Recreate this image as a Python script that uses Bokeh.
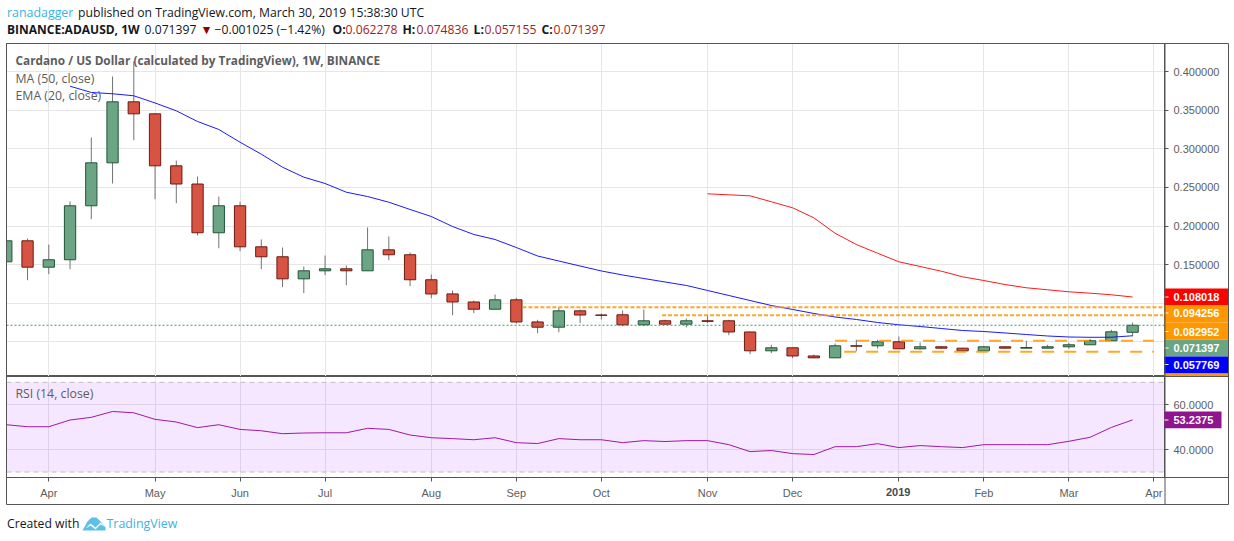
import pandas as pd
from bokeh.embed import file_html
from bokeh.resources import INLINE
from bokeh.layouts import column
from bokeh.plotting import figure
from bokeh.models import (Range1d, FixedTicker, NumeralTickFormatter, Label, BoxAnnotation,
                          Span, PolyAnnotation)

dates = ["2018-03-19","2018-03-26","2018-04-02","2018-04-09","2018-04-16","2018-04-23","2018-04-30","2018-05-07",
         "2018-05-14","2018-05-21","2018-05-28","2018-06-04","2018-06-11","2018-06-18","2018-06-25","2018-07-02",
         "2018-07-09","2018-07-16","2018-07-23","2018-07-30","2018-08-06","2018-08-13","2018-08-20","2018-08-27",
         "2018-09-03","2018-09-10","2018-09-17","2018-09-24","2018-10-01","2018-10-08","2018-10-15","2018-10-22",
         "2018-10-29","2018-11-05","2018-11-12","2018-11-19","2018-11-26","2018-12-03","2018-12-10","2018-12-17",
         "2018-12-24","2018-12-31","2019-01-07","2019-01-14","2019-01-21","2019-01-28","2019-02-04","2019-02-11",
         "2019-02-18","2019-02-25","2019-03-04","2019-03-11","2019-03-18","2019-03-25"]
opens = [.1537,.1809,.1467,.1563,.2263,.2820,.3611,.3455,.2781,.2545,.1913,.2263,.1731,.1602,.1316,.1420,.1446,.1420,
         .1692,.1628,.1304,.1120,.1016,.0922,.1044,.0757,.0689,.0901,.0847,.0850,.0720,.0772,.0728,.0772,.0772,.0627,
         .0383,.0422,.0316,.0292,.0448,.0448,.0500,.0409,.0435,.0417,.0383,.0435,.0417,.0417,.0435,.0461,.0513,.062278]
highs = [.1870,.1839,.1761,.2319,.3148,.3939,.4134,.3463,.2850,.2643,.2383,.2315,.1826,.1722,.1476,.1618,.1489,.1982,
         .1865,.1657,.1372,.1165,.1035,.1113,.1070,.0785,.0944,.0918,.0867,.0905,.0918,.0785,.0802,.0837,.0785,.0630,
         .0461,.0424,.0335,.0478,.0526,.0526,.0569,.0491,.0445,.0422,.0448,.0439,.0513,.0461,.0487,.0537,.0655,.074836]
lows = [.1500,.1298,.1376,.1441,.2089,.2552,.3113,.2348,.2296,.1878,.1713,.1674,.1441,.1208,.1130,.1363,.1233,.1420,
        .1558,.1221,.1065,.0844,.0871,.0922,.0737,.0611,.0624,.0741,.0789,.0702,.0702,.0724,.0685,.0741,.0585,.0339,
        .0352,.0287,.0287,.0292,.0378,.0413,.0409,.0400,.0406,.0374,.0374,.0413,.0413,.0413,.0409,.0461,.0513,.057155]
closes = [.1809,.1467,.1563,.2263,.2820,.3611,.3455,.2781,.2545,.1913,.2263,.1731,.1602,.1316,.1420,.1446,.1420,.1692,
          .1628,.1304,.1120,.1016,.0922,.1044,.0757,.0689,.0901,.0847,.0843,.0720,.0772,.0728,.0772,.0765,.0627,.0383,
          .0422,.0316,.0292,.0448,.0443,.0500,.0409,.0435,.0417,.0383,.0435,.0417,.0426,.0435,.0461,.0513,.0629,.071397]
blue_dates = dates[3:]
blue_line = [.3813,.3732,.3715,.3689,.3596,.3494,.3356,.3252,.3087,.2932,.2763,.2634,.2552,.2439,.2383,.2309,.2215,
             .2124,.1994,.1891,.1826,.1722,.1612,.1547,.1482,.1418,.1366,.1320,.1275,.1230,.1165,.1100,.1035,.0970,
             .0919,.0867,.0821,.0789,.0750,.0720,.0698,.0672,.0646,.0633,.0614,.0594,.0575,.0562,.0558,.0559,.057769]
red_dates = dates[33:]
red_line = [.2418,.2405,.2392,.2315,.2237,.2107,.1907,.1761,.1648,.1537,.1476,.1415,.1342,.1294,.1242,.1200,.1174,
            .1148,.1130,.1109,.108018]
rsi = [51.1,50.2,50.2,53.2,54.4,57.0,56.4,53.5,52.3,49.8,51.1,49.0,48.4,47.1,47.4,47.5,47.5,49.5,49.0,46.5,45.3,44.9,
       44.4,45.3,43.1,42.7,44.9,44.4,44.4,43.1,44.0,43.6,44.0,44.0,42.2,39.1,39.6,38.2,37.8,41.3,41.3,42.65,40.9,41.8,
       41.3,40.9,42.2,42.2,42.2,42.2,43.7,45.5,49.9,53.2375]
month_ticks = ["2018-04-02","2018-05-07","2018-06-04","2018-07-02","2018-08-06","2018-09-03","2018-10-01","2018-11-05",
               "2018-12-03","2019-01-07","2019-02-04","2019-03-04","2019-04-01"]
month_labels = ["Apr","May","Jun","Jul","Aug","Sep","Oct","Nov","Dec","","Feb","Mar","Apr"]
price_ticks = [0.15,0.20,0.25,0.30,0.35,0.40]
price_grid = [0.05,0.10,0.15,0.20,0.25,0.30,0.35,0.40]
rsi_ticks = [40,60]
levels_dotted = [(0.0947,"2018-09-05"),(0.0844,"2018-10-21")]
levels_dashed = [(0.0513,"2018-12-17"),(0.0370,"2018-12-20")]
price_tags = [("0.108018","#ff0000",288,305,296.5),("0.094256","#ff9800",305,322,312.5),("0.082952","#ff9800",322,339,331),
              ("0.071397","#6ba583",339,356,347.5),("0.057769","#0000ff",356,373,364)]

GRID = "#e6e6e6"; AX = "#555555"; TXT = "#5d5d5d"
X0 = pd.Timestamp("2018-03-19 01:40"); X1 = pd.Timestamp("2019-04-04 12:00")
xr = Range1d(X0, X1)
xs = pd.to_datetime(dates)
ms = lambda s: int(pd.Timestamp(s).timestamp() * 1000)
tick_ms = [ms(d) for d in month_ticks]
day = 86400000

p = figure(width=1234, height=376, x_range=xr, y_range=Range1d(0.00498, 0.43668), x_axis_type="datetime",
           y_axis_location="right", output_backend="svg", toolbar_location=None,
           min_border_left=6, min_border_right=70, min_border_top=43, min_border_bottom=0)
p.xaxis.visible = False
p.xgrid.ticker = FixedTicker(ticks=tick_ms)
p.ygrid.ticker = FixedTicker(ticks=price_grid)
p.grid.grid_line_color = GRID
p.outline_line_color = AX
ya = p.yaxis[0]
ya.ticker = FixedTicker(ticks=price_ticks)
ya.formatter = NumeralTickFormatter(format="0.000000")
ya.major_label_text_font = "Liberation Sans"; ya.major_label_text_font_size = "11px"
ya.major_label_text_color = TXT; ya.major_label_standoff = 5
ya.axis_line_color = AX; ya.major_tick_line_color = AX; ya.major_tick_out = 4; ya.major_tick_in = 0
ya.minor_tick_line_color = None

up = [c >= o for o, c in zip(opens, closes)]
fill = ["#6ba583" if u else "#d75442" for u in up]
edge = ["#225437" if u else "#6b1a10" for u in up]
p.segment(xs, highs, xs, lows, line_color="#737375", line_width=1)
p.vbar(x=xs, top=[max(a, b) for a, b in zip(opens, closes)], bottom=[min(a, b) for a, b in zip(opens, closes)],
       width=3.72 * day, fill_color=fill, line_color=edge, line_width=1)
p.line(pd.to_datetime(blue_dates), blue_line, line_color="#0000ff", line_width=1, line_alpha=0.9)
p.line(pd.to_datetime(red_dates), red_line, line_color="#ff0000", line_width=1, line_alpha=0.9)
p.add_layout(Span(location=closes[-1], dimension="width", line_color="#2f9e6a", line_dash="2 2", line_width=1))
for lv, start in levels_dotted:
    p.line([pd.Timestamp(start), pd.Timestamp("2019-04-04")], [lv, lv], line_color="#ff9800", line_width=2,
           line_alpha=0.85, line_dash="4 2")
for lv, start in levels_dashed:
    p.line([pd.Timestamp(start), pd.Timestamp("2019-04-01")], [lv, lv], line_color="#ff9800", line_width=2,
           line_alpha=0.85, line_dash="12 10")

# RSI pane
r = figure(width=1234, height=165, x_range=xr, y_range=Range1d(27.56, 72.6), x_axis_type="datetime",
           y_axis_location="right", output_backend="svg", toolbar_location=None,
           min_border_left=6, min_border_right=70, min_border_top=0, min_border_bottom=64)
r.xgrid.ticker = FixedTicker(ticks=tick_ms)
r.ygrid.ticker = FixedTicker(ticks=rsi_ticks)
r.grid.grid_line_color = GRID
r.outline_line_color = AX
xa = r.xaxis[0]
xa.ticker = FixedTicker(ticks=tick_ms)
xa.major_label_overrides = dict(zip(tick_ms, month_labels))
xa.major_label_text_font = "Liberation Sans"; xa.major_label_text_font_size = "11px"
xa.major_label_text_color = TXT; xa.major_label_standoff = 5
xa.axis_line_color = AX; xa.major_tick_line_color = AX; xa.major_tick_out = 4; xa.major_tick_in = 0
xa.minor_tick_line_color = None
ra = r.yaxis[0]
ra.ticker = FixedTicker(ticks=rsi_ticks)
ra.formatter = NumeralTickFormatter(format="0.0000")
ra.major_label_text_font = "Liberation Sans"; ra.major_label_text_font_size = "11px"
ra.major_label_text_color = TXT; ra.major_label_standoff = 5
ra.axis_line_color = AX; ra.major_tick_line_color = AX; ra.major_tick_out = 4; ra.major_tick_in = 0
ra.minor_tick_line_color = None
r.add_layout(BoxAnnotation(bottom=30, top=70, fill_color="#9915ff", fill_alpha=0.1, line_color=None, level="underlay"))
for lv in (70, 30):
    r.add_layout(Span(location=lv, dimension="width", line_color="#c3b8cc", line_dash="5 4", line_width=1))
r.line(xs, rsi, line_color="#990e9e", line_width=1, line_alpha=0.95)

# transparent page-wide layer (page pixels as its units) for header, price tags, frame and footer
o = figure(width=1234, height=541, x_range=Range1d(0, 1234), y_range=Range1d(541, 0), output_backend="svg",
           toolbar_location=None, x_axis_location=None, y_axis_location=None, min_border=0,
           background_fill_color=None, border_fill_color=None, outline_line_color=None,
           styles={"position": "absolute", "left": "0", "top": "0", "pointer-events": "none"})
o.grid.visible = False


def box(l, rt, t, b, fc=None, lc=None):
    o.add_layout(BoxAnnotation(left=l, right=rt, top=t, bottom=b, fill_color=fc, fill_alpha=1.0,
                               line_color=lc, line_alpha=1.0, line_width=1))


def txt(x, y, s, color="#131722", size="12.2px", font="Open Sans", style="normal"):
    o.add_layout(Label(x=x, y=y, text=s, text_color=color, text_font=font, text_font_size=size,
                       text_font_style=style, text_baseline="middle", text_align="left"))


for s, c, t, b, my in price_tags:
    box(1164, 1228, t, b, fc=c)
    box(1164, 1168, my - 0.5, my + 0.5, fc="#ffffff")
    txt(1173, my, s, "#ffffff", "11px", "Liberation Sans", "bold")
box(1164, 1228, 373, 376, fc="#ff9800")
box(6, 1228, 43, 504, lc=AX)
box(6, 1228, 376, 477, lc=AX)
box(1164, 1165, 43, 504, fc=AX)

txt(6.5, 12, "ranadagger", "#3bb3e4", "12.4px")
txt(77.5, 12, "published on TradingView.com, March 30, 2019 15:38:30 UTC")
txt(6.5, 29, "BINANCE:ADAUSD, 1W", size="12px", style="bold")
txt(144, 29, "0.071397")
txt(200, 29, "\u25bc", "#8b0000")
txt(214, 29, "\u22120.001025 (\u22121.42%)")
for x, s in [(332, "O:"), (402, "H:"), (473, "L:"), (541, "C:")]:
    txt(x, 29, s, style="bold")
for x, s in [(345, "0.062278"), (416, "0.074836"), (484, "0.057155"), (553, "0.071397")]:
    txt(x, 29, s, "#a61c1c")
txt(15, 59.5, "Cardano / US Dollar (calculated by TradingView), 1W, BINANCE", TXT, "11.8px", style="bold")
txt(15, 77.5, "MA (50, close)", TXT, "12.3px")
txt(15, 95, "EMA (20, close)", TXT, "12.3px")

box(1164, 1221, 411, 427.7, fc="#90148e")
box(1164, 1168, 419, 420, fc="#ffffff")
txt(1173, 419.5, "53.2375", "#ffffff", "11px", "Liberation Sans", "bold")
txt(885.5, 491.5, "2019", "#4a4a4a", "11px", "Liberation Sans", "bold")
txt(15, 393, "RSI (14, close)", TXT, "12.3px")
txt(6.5, 523, "Created with", "#131722", "12.2px")
txt(106, 523, "TradingView", "#3bb3e4", "12.4px")
o.add_layout(PolyAnnotation(xs=[82, 87, 91, 96, 100, 105, 105, 82], ys=[530, 521, 517, 517, 521, 527, 530, 530],
                            fill_color="#5cc0e8", fill_alpha=1.0, line_color=None))
o.add_layout(PolyAnnotation(xs=[85, 90, 95, 100, 104, 100, 95, 90], ys=[528, 523, 527, 522, 526, 524, 529, 525],
                            fill_color="#ffffff", fill_alpha=1.0, line_color=None))

page = column(p, r, spacing=0, styles={"position": "absolute", "left": "0", "top": "0"})
open("out.html", "w").write(file_html([page, o], INLINE))
